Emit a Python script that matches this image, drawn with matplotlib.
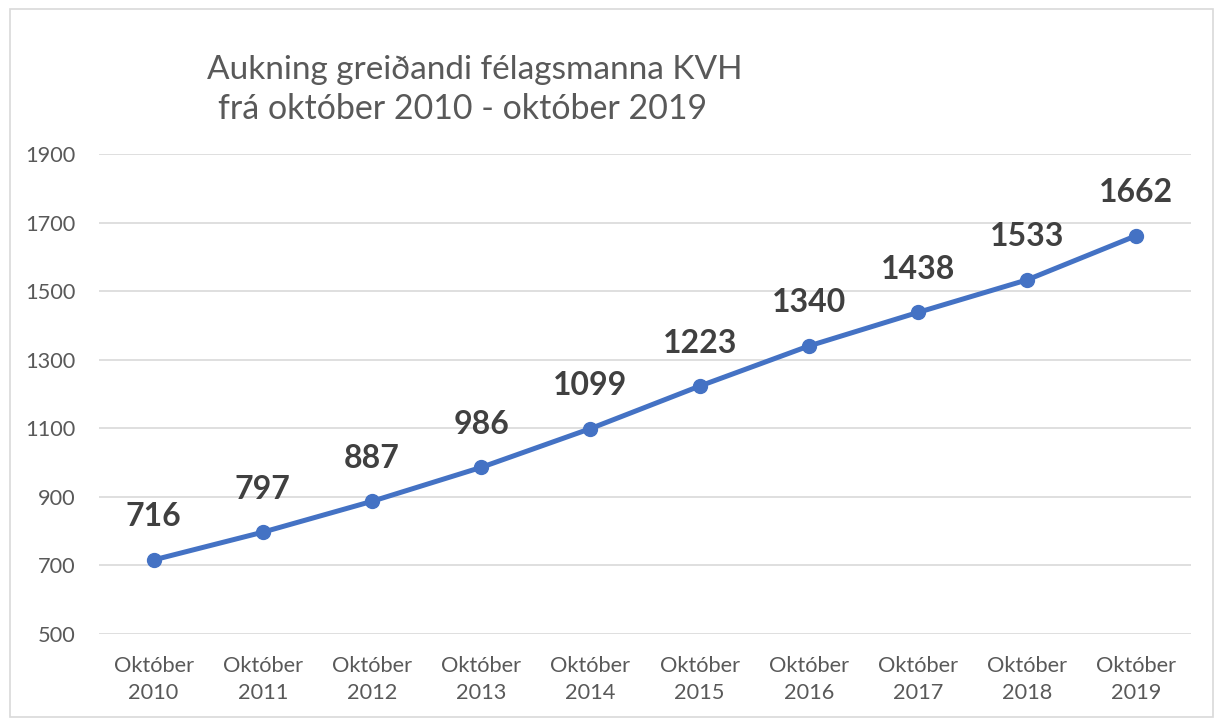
import matplotlib
matplotlib.use("Agg")
import matplotlib.pyplot as plt
from matplotlib.patches import Rectangle

years = ["2010", "2011", "2012", "2013", "2014", "2015", "2016", "2017", "2018", "2019"]
members = [716, 797, 887, 986, 1099, 1223, 1340, 1438, 1533, 1662]
tick_labels = ["Október\n" + y for y in years]
y_ticks = [500, 700, 900, 1100, 1300, 1500, 1700, 1900]

plt.rcParams['font.family'] = ['Lato', 'DejaVu Sans']

fig = plt.figure(figsize=(12.15, 7.18), dpi=100)
ax = fig.add_axes([99 / 1215, 1 - 634 / 718, (1191 - 99) / 1215, (634 - 154) / 718])

x = list(range(len(members)))
ax.plot(x, members, color='#4472C4', linewidth=3.6, marker='o', markersize=10,
        solid_capstyle='round', zorder=3)

for xi, v in zip(x, members):
    ax.annotate(str(v), (xi, v), xytext=(0, 31), textcoords='offset points',
                ha='center', va='center', fontsize=23, fontweight='bold', color='#404040')

ax.set_xlim(-0.5, len(members) - 0.5)
ax.set_ylim(500, 1900)
ax.set_yticks(y_ticks)
ax.set_xticks(x)
ax.set_xticklabels(tick_labels, fontsize=15.7, color='#595959', linespacing=1.45)
ax.tick_params(axis='y', labelsize=15.7, labelcolor='#595959', length=0, pad=17)
ax.tick_params(axis='x', length=0, pad=16)
ax.grid(axis='y', color='#D9D9D9', linewidth=1.2)
ax.set_axisbelow(True)
for s in ax.spines.values():
    s.set_visible(False)

fig.text(475 / 1215, 1 - 70 / 718, "Aukning greiðandi félagsmanna KVH", ha='center', va='center',
         fontsize=24, color='#595959')
fig.text(463 / 1215, 1 - 109 / 718, "frá október 2010 - október 2019", ha='center', va='center',
         fontsize=24.5, color='#595959')

fig.patches.append(Rectangle((10 / 1215, 1 / 718), 1203 / 1215, 708 / 718, transform=fig.transFigure,
                             fill=False, edgecolor='#D9D9D9', linewidth=1.2))

fig.savefig("out.png", dpi=100)
